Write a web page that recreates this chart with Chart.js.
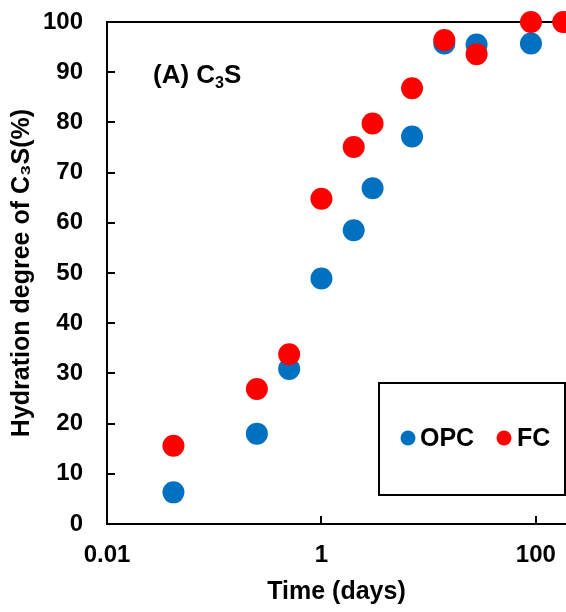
<!DOCTYPE html>
<html><head><meta charset="utf-8">
<script src="https://cdn.jsdelivr.net/npm/chart.js@4/dist/chart.umd.min.js"></script>
<style>html,body{margin:0;padding:0;background:#fff;overflow:hidden}canvas{display:block}</style>
</head><body>
<canvas id="c" width="566" height="612"></canvas>
<script>
// ---- data ----
const timeDays   = [1/24, 0.25, 0.5, 1, 2, 3, 7, 14, 28, 90, 180];
const opcValues  = [6.3, 18.0, 30.9, 48.9, 58.5, 66.9, 77.2, 95.7, 95.5, 95.7, null];
const fcValues   = [15.6, 26.9, 33.8, 64.8, 75.1, 79.8, 86.8, 96.4, 93.6, 100, 100];
const seriesNames  = ['OPC', 'FC'];
const xTickValues  = [0.01, 1, 100];
const yTickValues  = [0, 10, 20, 30, 40, 50, 60, 70, 80, 90, 100];
const xTitle = 'Time (days)';
const yTitle = 'Hydration degree of C\u2083S(%)';
const panelLabel = ['(A) C', '3', 'S'];

// ---- styles ----
const FONT = "'Liberation Sans', Arial, sans-serif";
const colors = ['#0070C0', '#FF0000'];

const toPts = vals => timeDays.map((t, i) => ({x: t, y: vals[i]})).filter(p => p.y !== null);

const decorPlugin = {
  id: 'decor',
  beforeDatasetsDraw(chart) {
    const {ctx, chartArea: a, scales: {x, y}} = chart;
    ctx.save();
    ctx.strokeStyle = '#000';
    ctx.lineWidth = 2;
    ctx.beginPath();
    ctx.moveTo(a.left, a.top); ctx.lineTo(a.right + 2, a.top);
    ctx.stroke();
    ctx.beginPath();
    xTickValues.forEach(v => {
      const px = Math.round(x.getPixelForValue(v));
      ctx.moveTo(px, a.bottom); ctx.lineTo(px, a.bottom - 8);
    });
    yTickValues.forEach(v => {
      const py = Math.round(y.getPixelForValue(v));
      ctx.moveTo(a.left, py); ctx.lineTo(a.left + 8, py);
    });
    ctx.stroke();
    ctx.fillStyle = '#000';
    ctx.textBaseline = 'middle';
    ctx.textAlign = 'left';
    let px = x.getPixelForValue(0.01) + 46;
    const py = y.getPixelForValue(89.2);
    ctx.font = 'bold 26px ' + FONT;
    ctx.fillText(panelLabel[0], px, py);
    px += ctx.measureText(panelLabel[0]).width;
    ctx.font = 'bold 16px ' + FONT;
    ctx.fillText(panelLabel[1], px, py + 7);
    px += ctx.measureText(panelLabel[1]).width;
    ctx.font = 'bold 26px ' + FONT;
    ctx.fillText(panelLabel[2], px, py);
    ctx.restore();
  },
  afterDraw(chart) {
    const {ctx} = chart;
    ctx.save();
    const bx = 379, by = 383, bw = 186, bh = 112;
    ctx.fillStyle = '#fff';
    ctx.fillRect(bx, by, bw, bh);
    ctx.strokeStyle = '#000';
    ctx.lineWidth = 2;
    ctx.strokeRect(bx, by, bw, bh);
    const cy = 438;
    const dotX = [408, 504];
    const txtX = [420, 517];
    ctx.font = 'bold 25px ' + FONT;
    ctx.textBaseline = 'middle';
    ctx.textAlign = 'left';
    chart.data.datasets.forEach((ds, i) => {
      ctx.fillStyle = ds.backgroundColor;
      ctx.beginPath();
      ctx.arc(dotX[i], cy, 7.5, 0, Math.PI * 2);
      ctx.fill();
      ctx.fillStyle = '#000';
      ctx.fillText(ds.label, txtX[i], cy + 1);
    });
    ctx.restore();
  }
};

new Chart(document.getElementById('c'), {
  type: 'scatter',
  data: {
    datasets: [
      {label: seriesNames[0], data: toPts(opcValues), backgroundColor: colors[0], borderWidth: 0,
       pointRadius: 11, pointHoverRadius: 11, order: 1, clip: false},
      {label: seriesNames[1], data: toPts(fcValues), backgroundColor: colors[1], borderWidth: 0,
       pointRadius: 11, pointHoverRadius: 11, order: 0, clip: false}
    ]
  },
  options: {
    responsive: false,
    animation: false,
    devicePixelRatio: 1,
    layout: {autoPadding: false, padding: {top: 22, left: 0, right: 0, bottom: 0}},
    plugins: {legend: {display: false}, tooltip: {enabled: false}},
    scales: {
      x: {
        type: 'logarithmic',
        min: 0.01, max: 191,
        afterBuildTicks: s => { s.ticks = xTickValues.map(v => ({value: v})); },
        afterFit: s => { s.height = 88; s.paddingLeft = 0; s.paddingRight = 0; },
        grid: {display: true, drawOnChartArea: false, drawTicks: false},
        border: {display: true, color: '#000', width: 2},
        ticks: {
          autoSkip: false, maxRotation: 0, padding: 17, color: '#000',
          font: {family: FONT, size: 24, weight: 'bold'},
          callback: v => xTickValues.includes(v) ? String(v) : ''
        },
        title: {display: true, text: xTitle, color: '#000',
          font: {family: FONT, size: 25, weight: 'bold', lineHeight: 1.2}, padding: {top: 0, bottom: 5}}
      },
      y: {
        min: 0, max: 100,
        afterBuildTicks: s => { s.ticks = yTickValues.map(v => ({value: v})); },
        afterFit: s => { s.width = 107; s.paddingTop = 0; s.paddingBottom = 0; },
        grid: {display: true, drawOnChartArea: false, drawTicks: false},
        border: {display: true, color: '#000', width: 2},
        ticks: {padding: 24, color: '#000', font: {family: FONT, size: 24, weight: 'bold'}},
        title: {display: true, text: yTitle, color: '#000',
          font: {family: FONT, size: 25, weight: 'bold', lineHeight: 1.2}, padding: {top: 7, bottom: 0}}
      }
    }
  },
  plugins: [decorPlugin]
});
</script>
</body></html>
